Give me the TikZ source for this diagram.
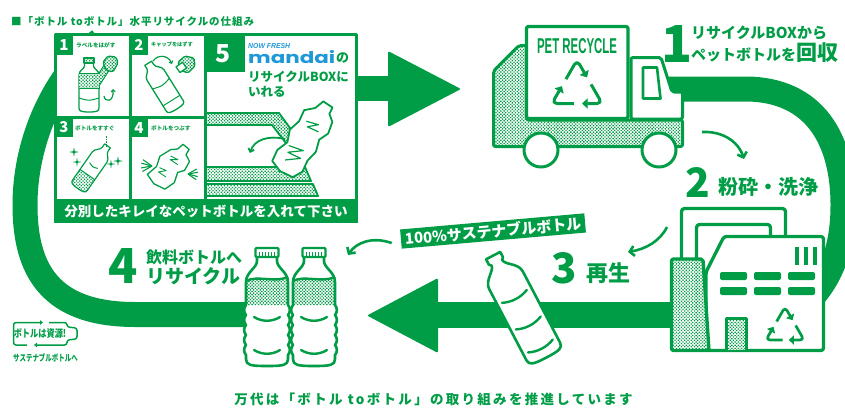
\documentclass[tikz,border=0pt]{standalone}
\usepackage{fontspec}
\setmainfont{Noto Sans CJK JP}
\newfontfamily\jpt{Noto Sans CJK JP}[LetterSpace=9]
\newfontfamily\jpw{Noto Sans CJK JP}[LetterSpace=17]
\newfontfamily\arial{Liberation Sans}
\newfontfamily\logof{Poppins}
\usetikzlibrary{arrows.meta,calc,patterns.meta}
\definecolor{eg}{RGB}{0,157,70}
\definecolor{mb}{RGB}{30,152,215}
\newcommand{\fs}[1]{\fontsize{#1}{#1}\selectfont}

% chasing-arrows recycling mark: centre x, centre y, radius, line width, corner radius
\newcommand{\recyc}[5]{%
  \begin{scope}[shift={(#1,#2)}]
    \coordinate (ra) at (-90:#3);
    \coordinate (rb) at (30:#3);
    \coordinate (rc) at (150:#3);
    \foreach \p/\q/\s in {rc/ra/rb,ra/rb/rc,rb/rc/ra}
      \draw[eg,line width=#4,rounded corners=#5,-{Triangle[length=0pt 1.9,width=0pt 3.4]}]
        ($(\p)!0.56!(\q)$) -- (\q) -- ($(\q)!0.40!(\s)$);
  \end{scope}}

% four-pointed sparkle
\newcommand{\spark}[3]{%
  \draw[eg,line width=0.9pt] (#1,#2-#3) .. controls (#1,#2) .. (#1+#3,#2)
    .. controls (#1,#2) .. (#1,#2+#3) .. controls (#1,#2) .. (#1-#3,#2)
    .. controls (#1,#2) .. (#1,#2-#3);}

% outline of a ribbed PET bottle, origin at the top of the cap
\newcommand{\bottlepath}{%
  (-10,9) -- (-10,14) .. controls (-10,21) and (-21,25) .. (-21,35) -- (-21,58)
  \foreach \k in {0,...,4}{ .. controls (-23.5,61+10*\k) and (-23.5,65+10*\k) .. (-21,68+10*\k) }
  -- (-21,112) .. controls (-21,118) and (-17,119) .. (0,119) .. controls (17,119) and (21,118) .. (21,112)
  -- (21,108)
  \foreach \k in {0,...,4}{ .. controls (23.5,105-10*\k) and (23.5,101-10*\k) .. (21,98-10*\k) }
  -- (21,35) .. controls (21,25) and (10,21) .. (10,14) -- (10,9)}

% upright PET bottle with label and cap
\newcommand{\petbottle}[1]{%
  \begin{scope}[shift={#1}]
    \path[fill=white] \bottlepath -- cycle;
    \path[dotfill] (-21,34) .. controls (-10,28) and (8,36) .. (21,30) -- (21,58) -- (-21,58) -- cycle;
    \draw[eg,line width=2.4pt] (-21,34) .. controls (-10,28) and (8,36) .. (21,30);
    \draw[eg,line width=2.6pt] \bottlepath;
    \draw[eg,line width=2.4pt,line cap=round] (-13,70) .. controls (-5,75) and (5,75) .. (13,70);
    \draw[eg,line width=2.4pt,line cap=round] (-13,103) .. controls (-5,108) and (5,108) .. (13,103);
    \draw[eg,line width=2.4pt,fill=white,rounded corners=1pt] (-11.5,1) rectangle (11.5,10);
    \foreach \i in {-7.5,-4.5,-1.5,1.5,4.5,7.5}
      \draw[eg,line width=1.1pt] (\i,5) -- (\i,8.5);
  \end{scope}}

\begin{document}
\begin{tikzpicture}[x=1pt,y=-1pt,line join=round,
  band/.style={draw=eg,line width=25pt},
  gl/.style={draw=eg,line width=3pt},
  dotfill/.style={preaction={fill=white},pattern={Dots[distance=2.3pt,radius=0.95pt,angle=45]},pattern color=eg},
  sarrow/.style={draw=eg,line width=2.6pt,-{Straight Barb[length=4.5pt,width=10pt]}},
  txt/.style={inner sep=0pt,text=eg},
  wtxt/.style={inner sep=0pt,text=white},
  thin/.style={draw=eg,line width=1.3pt},
]
\useasboundingbox (0,0) rectangle (845,407);

% ---------- the recycling loop ----------
\draw[band] (100,40) .. controls (55,75) and (25,140) .. (25,205)
  .. controls (25,270) and (50,314.5) .. (135,314.5) -- (262,314.5);
\draw[band] (340,88.5) -- (395,88.5);
\fill[eg,rounded corners=2pt] (388,51) -- (461,89) -- (388,127) -- cycle;
\begin{scope}
  \clip (0,0) rectangle (845,407);
  \draw[band] (668,89) -- (745,89) .. controls (815,89) and (843,140) .. (843,205)
    .. controls (843,245) and (833,278) .. (805,305);
\end{scope}
\draw[band,line width=26pt] (695,315) -- (430,315);
\fill[eg,rounded corners=2pt] (438,278) -- (367,315.5) -- (438,353) -- cycle;

% ---------- title ----------
\node[txt,anchor=base west] (title) at (11,25.5) {\jpt\bfseries\fs{10.5}■「ボトル toボトル」水平リサイクルの仕組み};

% ---------- how-to panel ----------
\draw[gl,fill=white] (55.5,34.5) rectangle (356.5,221.5);
\fill[eg] (54,199) rectangle (358,223);
\draw[eg,line width=2.6pt] (130.5,34) -- (130.5,199) (205.5,34) -- (205.5,199) (55,117.5) -- (205.5,117.5);
\node[wtxt] (panelnote) at (206,211.5) {\bfseries\fs{13.5}分別したキレイなペットボトルを入れて下さい};

% step tabs
\fill[eg] (55,34) rectangle (73,55);
\fill[eg] (130,34) rectangle (148,55);
\fill[eg] (55,117) rectangle (73,137);
\fill[eg] (130,117) rectangle (148,137);
\fill[eg] (205,34) rectangle (245,72);
\node[wtxt] (n1) at (64,45) {\resizebox{!}{11pt}{\bfseries 1}};
\node[wtxt] (n2) at (139,45) {\resizebox{!}{11pt}{\bfseries 2}};
\node[wtxt] (n3) at (64,127.5) {\resizebox{!}{11pt}{\bfseries 3}};
\node[wtxt] (n4) at (139,127.5) {\resizebox{!}{11pt}{\bfseries 4}};
\node[wtxt] (n5) at (223,54) {\resizebox{!}{18pt}{\bfseries 5}};
\node[txt,anchor=west] (s1) at (76,45) {\bfseries\fs{5.6}ラベルをはがす};
\node[txt,anchor=west] (s2) at (151,45) {\bfseries\fs{5.2}キャップをはずす};
\node[txt,anchor=west] (s3) at (75,128) {\bfseries\fs{5.6}ボトルをすすぐ};
\node[txt,anchor=west] (s4) at (151,128) {\bfseries\fs{5.6}ボトルをつぶす};

% step 1: peel the label
\begin{scope}[shift={(89,58)}]
  \draw[thin,fill=white] (-4.5,5) -- (-4.5,8) .. controls (-4.5,11) and (-10,12) .. (-10,17) -- (-10,50)
    .. controls (-10,53) and (-8,54) .. (0,54) .. controls (8,54) and (10,53) .. (10,50) -- (10,17)
    .. controls (10,12) and (4.5,11) .. (4.5,8) -- (4.5,5);
  \draw[thin,line width=1.1pt,dotfill] (-5,0) rectangle (5,5);
  \draw[thin,line width=1pt,dotfill] (-10,15) -- (10,15) -- (10,30) -- (-10,30);
  \draw[thin,line width=1pt] (-10,40) .. controls (0,43) .. (10,40);
\end{scope}
\path[dotfill] (99,73) -- (105,64) -- (110,69) -- (99,86) -- cycle;
\draw[thin,line width=1pt] (99,73) -- (105,64) -- (110,69) -- (99,86);
\draw[thin,dotfill,rounded corners=1.5pt] (103,62) -- (108,56) -- (116,57) -- (118,63) -- (113,72) -- (106,70) -- cycle;
\draw[eg,line width=1.2pt,-{Straight Barb[length=2pt,width=4pt]}] (104,96) .. controls (105,103) and (114,102) .. (113,89);

% step 2: remove the cap
\begin{scope}[shift={(163,87)},rotate=32]
  \draw[thin,fill=white] (-4,-28) -- (-4,-24) .. controls (-4,-20) and (-10,-19) .. (-10,-14) -- (-10,22)
    .. controls (-10,25) and (-8,26) .. (0,26) .. controls (8,26) and (10,25) .. (10,22) -- (10,-14)
    .. controls (10,-19) and (4,-20) .. (4,-24) -- (4,-28) -- cycle;
  \draw[thin,line width=1pt] (-10,16) -- (10,16) (-10,-4) .. controls (0,-1) .. (10,-4);
\end{scope}
\draw[thin,dotfill,rounded corners=1.5pt] (178,62) -- (185,56) -- (194,58) -- (195,66) -- (188,73) -- (180,70) -- cycle;
\draw[thin,fill=white,rotate around={35:(181,67)}] (177,64) rectangle (185,71);
\draw[eg,line width=1.2pt,-{Straight Barb[length=2pt,width=4pt]}] (153,61) .. controls (158,54) and (168,55) .. (172,64);

% step 3: rinse
\begin{scope}[shift={(92,168)},rotate=-35]
  \path[dotfill] (-9,8) -- (9,8) -- (9,21) .. controls (9,24) and (7,25) .. (0,25) .. controls (-7,25) and (-9,24) .. (-9,21) -- cycle;
  \draw[thin,line width=1.2pt] (-3.5,-27) -- (-3.5,-23) .. controls (-3.5,-19) and (-9,-18) .. (-9,-13) -- (-9,21)
    .. controls (-9,24) and (-7,25) .. (0,25) .. controls (7,25) and (9,24) .. (9,21) -- (9,-13)
    .. controls (9,-18) and (3.5,-19) .. (3.5,-23) -- (3.5,-27) -- cycle;
  \draw[thin,line width=1pt] (-9,8) -- (9,8) (-5,-3) .. controls (0,-1) .. (5,-3);
\end{scope}
\draw[eg,line width=1pt,dash pattern=on 1.5pt off 1pt] (106,136) -- (106,147);
\spark{74}{152}{4}
\spark{77}{162}{3.5}
\spark{111}{164}{3.5}
\spark{118}{161}{4}

% step 4: crush
\begin{scope}[shift={(170,166)},rotate=-40]
  \draw[thin,fill=white] (-4,-25) -- (4,-25) -- (5,-19) -- (12,-16) -- (14,-6) -- (10,0) -- (14,10)
    -- (11,21) -- (-1,24) -- (-12,21) -- (-10,9) -- (-14,-1) -- (-10,-13) -- (-5,-18) -- cycle;
  \draw[thin,line width=0.9pt] (-6,-8) -- (2,-10) -- (-4,-5) -- (5,-6);
  \draw[thin,line width=0.9pt] (-7,8) -- (0,6) -- (-5,12) -- (4,11);
\end{scope}
\foreach \a in {150,170,195,215}
  \draw[eg,line width=1.1pt] (152,166) -- ++(\a:11);
\foreach \a in {-30,-10,15,35}
  \draw[eg,line width=1.1pt] (188,174) -- ++(\a:10);

% step 5: into the collection box
\node[anchor=base west,inner sep=0pt,text=mb] (nf) at (248,48) {\resizebox{42pt}{5pt}{\arial\bfseries\itshape NOW FRESH}};
\node[anchor=base west,inner sep=0pt,text=mb] (logo) at (248,63) {\resizebox{87pt}{13pt}{\logof\bfseries mandai}};
\node[txt,anchor=base west] (no) at (336,62) {\bfseries\fs{13}の};
\node[txt,anchor=base west] (b1) at (248,81.5) {\bfseries\fs{12.5}リサイクルBOXに};
\node[txt,anchor=base west] (b2) at (248,96.5) {\bfseries\fs{12.5}いれる};
\draw[eg,line width=1.8pt,dotfill] (207,113) -- (279,113) -- (301,143) -- (289,147) -- (272,125) -- (207,125);
\draw[eg,line width=1.8pt,dotfill] (207,167) -- (305,167) -- (311,181) -- (207,181);
\draw[eg,line width=1.8pt,dotfill] (207,184) -- (313,184) -- (318,196) -- (207,196);
\begin{scope}[shift={(304,139)},rotate=-34]
  \draw[eg,line width=1.8pt,fill=white] (-5,-42) -- (6,-42) -- (7,-35) -- (14,-30) -- (17,-18) -- (13,-8)
    -- (17,4) -- (15,16) -- (17,28) -- (12,38) -- (-2,40) -- (-14,36) -- (-16,24) -- (-12,12) -- (-17,0)
    -- (-14,-12) -- (-16,-24) -- (-8,-32) -- cycle;
  \draw[eg,line width=1.2pt] (-8,-16) -- (4,-20) -- (-4,-12) -- (8,-14);
  \draw[eg,line width=1.2pt] (-9,14) -- (6,10) -- (-6,20) -- (8,18) -- (-4,28);
\end{scope}
\draw[eg,line width=1.8pt,-{Straight Barb[length=3pt,width=6pt]}] (285,139) .. controls (268,135) and (254,140) .. (250,153);

% ---------- collection truck ----------
\draw[gl,dotfill,rounded corners=2pt] (493.5,71) -- (519,45.5) -- (527,45.5) -- (527,120) -- (682.5,120)
  -- (682.5,146.5) -- (493.5,146.5) -- cycle;
\draw[gl,line width=3.3pt,fill=white,rounded corners=2pt] (526.5,26.5) rectangle (628,118.5);
\draw[gl,fill=white,rounded corners=2pt] (631,57.5) -- (661,57.5) -- (672,92) -- (682.5,92) -- (682.5,119)
  -- (631,119) -- cycle;
\draw[eg,line width=2.6pt,fill=white] (643,67.5) -- (657,67.5) -- (660.5,98.5) -- (643,98.5) -- cycle;
\draw[gl,fill=white] (541,150) circle[radius=17pt];
\draw[gl,fill=white] (659,150) circle[radius=17pt];
\node[txt,anchor=base] (pet) at (577,53.5) {\resizebox{80pt}{15pt}{\arial\bfseries PET RECYCLE}};
\recyc{577}{89}{29}{3pt}{5pt}

\node[txt,anchor=base west] (one) at (661,62) {\resizebox{!}{37pt}{\bfseries 1}};
\node[txt,anchor=base west] (t1a) at (691,38.5) {\bfseries\fs{15}リサイクルBOXから};
\node[txt,anchor=base west] (t1b) at (691,60) {\bfseries\fs{15}ペットボトルを\fs{21}回収};
\draw[sarrow] (702,132) .. controls (722,131) and (738,141) .. (744,159);

% ---------- recycling plant ----------
\draw[eg,line width=3.3pt,rounded corners=3pt] (681.5,262) -- (681.5,208.5) -- (785.5,208.5) -- (785.5,238);
\draw[eg,line width=3.3pt,rounded corners=3pt] (696.5,262) -- (696.5,224.5) -- (770.5,224.5) -- (770.5,238);
\draw[eg,line width=3.3pt,fill=white,rounded corners=2.5pt] (724,236.5) -- (823.5,236.5) -- (823.5,350.5)
  -- (706,350.5) -- (706,272) -- cycle;
\draw[eg,line width=3.3pt,dotfill,rounded corners=2pt] (671.5,350.5) -- (671.5,259) -- (703,259) -- (709,350.5) -- cycle;
\draw[eg,line width=3pt,dotfill] (726,350) -- (726,318.5) -- (746,318.5) -- (746,350);
\foreach \x in {720,754,788}{
  \fill[eg,rounded corners=2pt] (\x,272) rectangle ++(27,8);
  \fill[eg,rounded corners=2pt] (\x,287) rectangle ++(27,8);}
\foreach \x in {795,804,813}
  \fill[eg] (\x,247) rectangle ++(4,18);
\recyc{785}{329}{22}{2.7pt}{4pt}

\node[txt,anchor=base west] (two) at (685,197) {\resizebox{!}{30pt}{\bfseries 2}};
\node[txt,anchor=base west] (t2) at (718,194) {\bfseries\fs{20}粉砕・洗浄};
\draw[sarrow] (667,227) .. controls (660,241) and (646,249) .. (628,252);
\node[txt,anchor=base west] (three) at (551,283) {\resizebox{!}{31pt}{\bfseries 3}};
\node[txt,anchor=base west] (t3) at (586,281) {\bfseries\fs{22}再生};

% ---------- recycled bottle ----------
\node[wtxt,fill=eg,rotate=5,inner xsep=4pt,inner ysep=2.5pt] (banner) at (493,231) {\bfseries\fs{15}100\%サステナブルボトル};
\draw[sarrow] (banner.west) ++(-9,4) .. controls (372,236) and (356,243) .. (348,255);
\begin{scope}[shift={(520,307)},rotate=27.6]
  \draw[eg,line width=2.6pt,fill=white] (-8,-58) -- (8,-58) -- (8,-52) -- (6,-50) .. controls (6,-44) and (19,-40) .. (19,-30)
    -- (19,50) .. controls (19,56) and (15,57) .. (0,57) .. controls (-15,57) and (-19,56) .. (-19,50)
    -- (-19,-30) .. controls (-19,-40) and (-6,-44) .. (-6,-50) -- (-8,-52) -- cycle;
  \draw[eg,line width=2.4pt,line cap=round] (-14,-12) .. controls (-5,-8) and (5,-8) .. (14,-12);
  \draw[eg,line width=2.4pt,line cap=round] (-14,18) .. controls (-5,22) and (5,22) .. (14,18);
  \draw[eg,line width=2.4pt,line cap=round] (-14,44) .. controls (-5,48) and (5,48) .. (14,44);
\end{scope}

% ---------- back to beverage bottles ----------
\node[txt,anchor=base west] (four) at (108,283) {\resizebox{!}{35pt}{\bfseries 4}};
\node[txt,anchor=base west] (t4a) at (146,263) {\bfseries\fs{16}飲料ボトルへ};
\node[txt,anchor=base west] (t4b) at (146,283) {\bfseries\fs{19}リサイクル};
\petbottle{(267,247)}
\petbottle{(314,247)}

% ---------- small badge ----------
\draw[eg,line width=1.5pt,rounded corners=2.5pt,-{Triangle[length=3pt,width=4.5pt]}] (49,322.5) -- (67,322.5) -- (67,327) -- (77,328)
  -- (77,339) -- (67,340) -- (67,345) -- (34,345);
\draw[eg,line width=1.5pt,rounded corners=2.5pt,-{Triangle[length=3pt,width=4.5pt]}] (27,345) -- (13.5,345) -- (13.5,322.5) -- (43,322.5);
\node[txt] (badge) at (40,334) {\scalebox{0.78}[1]{\fs{10.5}\bfseries ボトルは資源!}};
\node[txt,anchor=base west] (badge2) at (13,361) {\scalebox{0.72}[1]{\fs{9}\bfseries サステナブルボトルへ}};

% ---------- closing line ----------
\node[txt,anchor=base] (foot) at (433.5,404.5) {\jpw\bfseries\fs{13.5}万代は「ボトル toボトル」の取り組みを推進しています};
\end{tikzpicture}
\end{document}
